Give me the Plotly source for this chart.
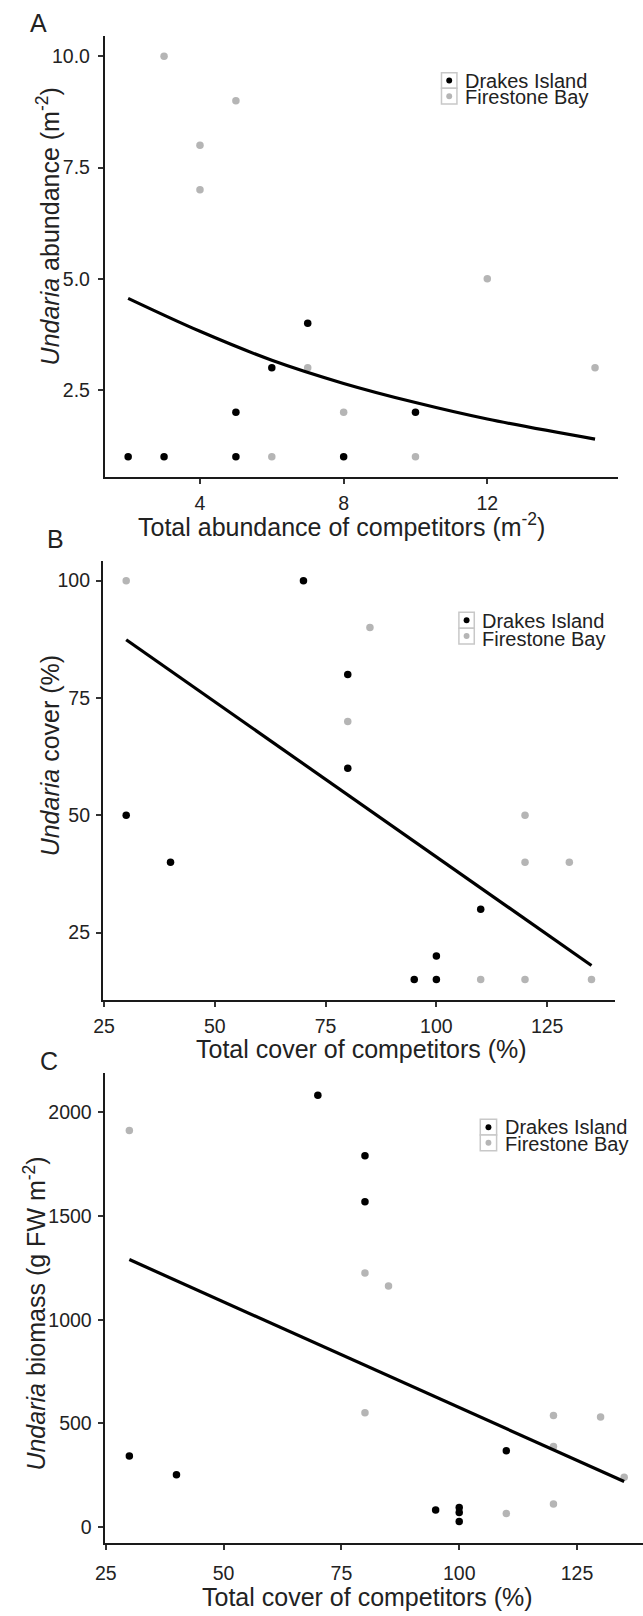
import plotly.graph_objects as go

# ---------------- data ----------------
a_drakes_x = [2, 3, 5, 8, 5, 10, 6, 7]
a_drakes_y = [1, 1, 1, 1, 2, 2, 3, 4]
a_fire_x = [3, 5, 4, 4, 12, 15, 7, 8, 6, 10]
a_fire_y = [10, 9, 8, 7, 5, 3, 3, 2, 1, 1]
a_fit_x = [2, 4, 6, 8, 10, 12, 15]
a_fit_y = [4.56, 3.82, 3.17, 2.65, 2.22, 1.85, 1.40]

b_drakes_x = [70, 80, 80, 30, 40, 110, 100, 95, 100]
b_drakes_y = [100, 80, 60, 50, 40, 30, 20, 15, 15]
b_fire_x = [30, 85, 80, 120, 120, 130, 110, 120, 135]
b_fire_y = [100, 90, 70, 50, 40, 40, 15, 15, 15]
b_fit_x = [30, 135]
b_fit_y = [87.4, 18.0]

c_drakes_x = [70, 80, 80, 30, 40, 110, 95, 100, 100, 100]
c_drakes_y = [2082, 1790, 1569, 343, 252, 368, 83, 95, 70, 27]
c_fire_x = [30, 80, 85, 80, 120, 130, 120, 135, 120, 110]
c_fire_y = [1912, 1225, 1162, 552, 538, 531, 389, 240, 112, 66]
c_fit_x = [30, 135]
c_fit_y = [1290, 220]

a_xticks = [4, 8, 12]
a_yticks = [2.5, 5.0, 7.5, 10.0]
b_xticks = [25, 50, 75, 100, 125]
b_yticks = [25, 50, 75, 100]
c_xticks = [25, 50, 75, 100, 125]
c_yticks = [0, 500, 1000, 1500, 2000]

site_names = ["Drakes Island", "Firestone Bay"]

# ---------------- style ----------------
W, H = 643, 1616
FONT = "Liberation Sans, Arial, sans-serif"
BLACK = "#000000"
GREY = "#b5b5b5"
TXT = "#222222"


def X(px):
    return px / W


def Y(py):
    return 1 - py / H


fig = go.Figure()

panels = [
    ("", a_drakes_x, a_drakes_y, a_fire_x, a_fire_y, a_fit_x, a_fit_y, "spline"),
    ("2", b_drakes_x, b_drakes_y, b_fire_x, b_fire_y, b_fit_x, b_fit_y, "linear"),
    ("3", c_drakes_x, c_drakes_y, c_fire_x, c_fire_y, c_fit_x, c_fit_y, "linear"),
]
for sfx, dx, dy, fx, fy, lx, ly, shp in panels:
    fig.add_trace(go.Scatter(x=fx, y=fy, mode="markers", xaxis="x" + sfx, yaxis="y" + sfx,
                             marker=dict(color=GREY, size=7.5), showlegend=False))
    fig.add_trace(go.Scatter(x=dx, y=dy, mode="markers", xaxis="x" + sfx, yaxis="y" + sfx,
                             marker=dict(color=BLACK, size=7.5), showlegend=False))
    fig.add_trace(go.Scatter(x=lx, y=ly, mode="lines", xaxis="x" + sfx, yaxis="y" + sfx,
                             line=dict(color=BLACK, width=3.2, shape=shp), showlegend=False))

axis_common = dict(showgrid=False, zeroline=False, showline=True, linecolor="#1a1a1a",
                   linewidth=2, ticks="outside", ticklen=5, tickwidth=1.5, tickcolor="#333333",
                   tickfont=dict(family=FONT, size=19.5, color=TXT), mirror=False)

fig.update_layout(
    width=W, height=H, margin=dict(l=0, r=0, t=0, b=0),
    paper_bgcolor="white", plot_bgcolor="white", showlegend=False,
    xaxis=dict(axis_common, domain=[X(96.3), X(618)], range=[1.35, 15.65],
               tickvals=a_xticks, anchor="y", ticklabelstandoff=3),
    yaxis=dict(axis_common, domain=[Y(476.9), Y(36.2)], range=[0.55, 10.45],
               tickvals=a_yticks, tickformat=".1f", anchor="x", ticklabelstandoff=4),
    xaxis2=dict(axis_common, domain=[X(94.4), X(614.3)], range=[24.75, 140.25],
                tickvals=b_xticks, anchor="y2", ticklabelstandoff=3),
    yaxis2=dict(axis_common, domain=[Y(999.5), Y(560.7)], range=[10.75, 104.25],
                tickvals=b_yticks, anchor="x2", ticklabelstandoff=2),
    xaxis3=dict(axis_common, domain=[X(96.1), 1.0], range=[24.75, 139.0],
                tickvals=c_xticks, anchor="y3", ticklabelstandoff=7),
    yaxis3=dict(axis_common, domain=[Y(1542.7), Y(1073.3)], range=[-75, 2188],
                tickvals=c_yticks, anchor="x3", ticklabelstandoff=2),
)

ann = []
shapes = []


def text(px, py, s, size, angle=0, xanchor="center"):
    ann.append(dict(x=X(px), y=Y(py), xref="paper", yref="paper", text=s, showarrow=False,
                    textangle=angle, xanchor=xanchor, yanchor="middle",
                    font=dict(family=FONT, size=size, color=TXT)))


# panel letters
text(28.7, 22.7, "A", 25)
text(45.8, 538.5, "B", 25)
text(39.3, 1061, "C", 25)

# axis titles
text(337, 525, "Total abundance of competitors (m<sup>-2</sup>)", 25)
text(39, 226, "<i>Undaria</i> abundance (m<sup>-2</sup>)", 25, angle=-90)
text(356.8, 1049, "Total cover of competitors (%)", 25)
text(41, 756, "<i>Undaria</i> cover (%)", 25, angle=-90)
text(362.9, 1597, "Total cover of competitors (%)", 25)
text(25, 1314, "<i>Undaria</i> biomass (g FW m<sup>-2</sup>)", 25, angle=-90)

# manual legends
legend_pos = [  # box left, box right, top, bottom, text x, row centers
    (438.3, 454.0, 72.7, 104.0, 460.0, (80.7, 97.3)),
    (456.0, 471.6, 612.3, 644.0, 477.7, (621.0, 639.2)),
    (477.7, 494.3, 1119.3, 1150.7, 500.7, (1126.7, 1144.0)),
]
for bl, br, bt, bb, tx, rows in legend_pos:
    mid = (bt + bb) / 2
    for (t0, t1), col, rc, name in zip([(bt, mid), (mid, bb)], [BLACK, GREY], rows, site_names):
        shapes.append(dict(type="rect", xref="paper", yref="paper", x0=X(bl), x1=X(br),
                           y0=Y(t1), y1=Y(t0), line=dict(color="#c8c8c8", width=1.5),
                           fillcolor="white"))
        cx = (bl + br) / 2
        cy = (t0 + t1) / 2
        shapes.append(dict(type="circle", xref="paper", yref="paper", x0=X(cx - 3), x1=X(cx + 3),
                           y0=Y(cy + 3), y1=Y(cy - 3), line=dict(width=0), fillcolor=col))
        text(tx, rc, name, 20, xanchor="left")

fig.update_layout(annotations=ann, shapes=shapes)

fig.write_html("out.html")
